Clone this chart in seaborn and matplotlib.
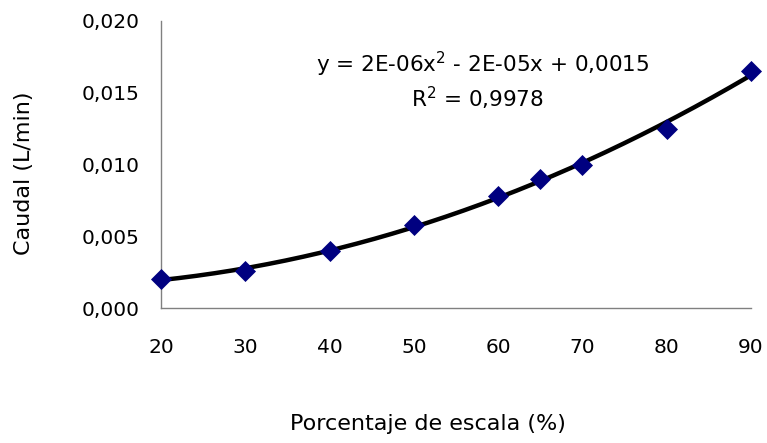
import numpy as np
import pandas as pd
import matplotlib
matplotlib.use("Agg")
import matplotlib.pyplot as plt
import seaborn as sns
from matplotlib.ticker import FuncFormatter, MultipleLocator

# Measured flow versus scale percentage
porcentaje = [20, 30, 40, 50, 60, 65, 70, 80, 90]
caudal = [0.0020, 0.0026, 0.0040, 0.0058, 0.0078, 0.0090, 0.0100, 0.0125, 0.0165]

eq_text = "y = 2E-06x$^{2}$ - 2E-05x + 0,0015"
r2_text = "R$^{2}$ = 0,9978"
x_label = "Porcentaje de escala (%)"
y_label = "Caudal (L/min)"

sns.set_theme(style="white")
plt.rcParams["font.family"] = ["DejaVu Sans"]
plt.rcParams["mathtext.default"] = "regular"

TICK_FS = 14.5
LABEL_FS = 16
EQ_FS = 15.5

df = pd.DataFrame({"x": porcentaje, "y": caudal})

# Second-order polynomial trend line
coef = np.polyfit(df["x"], df["y"], 2)
xs = np.linspace(min(porcentaje), max(porcentaje), 200)
trend = pd.DataFrame({"x": xs, "y": np.polyval(coef, xs)})

fig = plt.figure(figsize=(7.67, 4.43), dpi=100)
ax = fig.add_axes([0.2099, 0.3047, 0.7692, 0.6479])

sns.lineplot(data=trend, x="x", y="y", ax=ax, color="black", linewidth=3.2, zorder=2)
sns.scatterplot(data=df, x="x", y="y", ax=ax, marker="D", s=115,
                color="#000080", edgecolor="#000080", linewidth=0, zorder=3)

ax.set_xlim(20, 90)
ax.set_ylim(0, 0.020)
ax.xaxis.set_major_locator(MultipleLocator(10))
ax.yaxis.set_major_locator(MultipleLocator(0.005))
ax.yaxis.set_major_formatter(FuncFormatter(lambda v, p: f"{v:.3f}".replace(".", ",")))

for side in ["top", "right"]:
    ax.spines[side].set_visible(False)
for side in ["left", "bottom"]:
    ax.spines[side].set_color("#808080")
    ax.spines[side].set_linewidth(1.0)
    ax.spines[side].set_zorder(1)

ax.tick_params(axis="both", which="major", direction="out", length=5.5, width=1,
               color="#808080", labelsize=TICK_FS, labelcolor="black")
ax.tick_params(axis="y", pad=10)
ax.tick_params(axis="x", pad=16)

ax.set_xlabel(x_label, fontsize=LABEL_FS, color="black")
ax.set_ylabel(y_label, fontsize=LABEL_FS, color="black")
ax.xaxis.set_label_coords(0.4525, -0.369)
ax.yaxis.set_label_coords(-0.215, 0.469)

ax.text(0.545, 0.822, eq_text, transform=ax.transAxes, ha="center", va="baseline",
        fontsize=EQ_FS, color="black")
ax.text(0.537, 0.700, r2_text, transform=ax.transAxes, ha="center", va="baseline",
        fontsize=EQ_FS, color="black")

for art in ax.collections + ax.lines:
    art.set_clip_on(False)

fig.savefig("out.png", dpi=100)
